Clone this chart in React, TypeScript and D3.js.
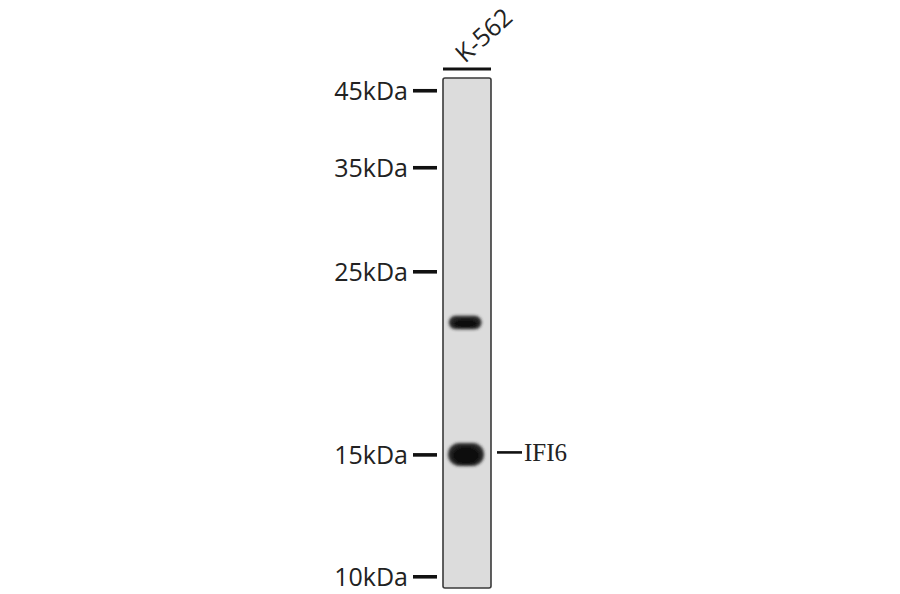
import React, { useEffect, useRef } from 'react';
import * as d3 from 'd3';

// ladder markers (kDa) and their relative mobility down the lane (Rf, 0 = top, 1 = bottom)
const markerKDa = [45, 35, 25, 15, 10];
const markerRf = [0.025, 0.176, 0.38, 0.739, 0.978];
const markerLabels = ['45kDa', '35kDa', '25kDa', '15kDa', '10kDa'];

// sample lanes
const lanes = ['K-562'];

// detected bands in the lane: apparent size (kDa), relative signal
const bandKDa = [21.7, 15.02];
const bandSignal = [0.45, 1];
const bandTarget = ['', 'IFI6'];

export default function App() {
    const svgRef = useRef<SVGSVGElement>(null);

    const width = 900;
    const height = 594;
    const gel = { top: 78, bottom: 588, left: 443, laneWidth: 48 };

    useEffect(() => {
        if (!svgRef.current) return;
        const svg = d3.select(svgRef.current);
        svg.selectAll('*').remove();

        // kDa -> y, calibrated on the ladder
        const rf = d3.scaleLinear().domain([0, 1]).range([gel.top, gel.bottom]);
        const y = d3.scaleLog().domain(markerKDa).range(markerRf.map(r => rf(r)));

        const x = d3.scaleBand<string>()
            .domain(lanes)
            .range([gel.left, gel.left + gel.laneWidth * lanes.length])
            .paddingInner(0);

        const defs = svg.append('defs');
        defs.append('filter').attr('id', 'blur')
            .attr('x', '-30%').attr('y', '-60%').attr('width', '160%').attr('height', '220%')
            .append('feGaussianBlur').attr('stdDeviation', 1.6);

        // lanes
        lanes.forEach(name => {
            const lx = x(name)!;
            const lw = x.bandwidth();
            svg.append('rect')
                .attr('x', lx).attr('y', gel.top)
                .attr('width', lw).attr('height', gel.bottom - gel.top)
                .attr('rx', 2)
                .attr('fill', '#dcdcdc')
                .attr('stroke', '#3a3a3a')
                .attr('stroke-width', 1.6);

            // bar over the lane
            svg.append('line')
                .attr('x1', lx).attr('x2', lx + lw)
                .attr('y1', gel.top - 9).attr('y2', gel.top - 9)
                .attr('stroke', '#111').attr('stroke-width', 3.2);

            svg.append('text')
                .attr('transform', `translate(${lx + 22},${gel.top - 14}) rotate(-42)`)
                .attr('font-family', '"Open Sans", sans-serif')
                .attr('font-size', 25)
                .attr('fill', '#222')
                .text(name);

            const cx = lx + lw / 2;
            const bands = svg.append('g').attr('filter', 'url(#blur)');
            bandKDa.forEach((kda, i) => {
                const s = bandSignal[i];
                const bw = 30 + 6 * s;
                const bh = 6 + 17 * s;
                const by = y(kda);
                bands.append('rect')
                    .attr('x', cx - bw / 2 - 2.5 + 1.5 * s).attr('y', by - bh / 2)
                    .attr('width', bw).attr('height', bh)
                    .attr('rx', bh / 2).attr('ry', bh / 2)
                    .attr('fill', '#262626');
                // darker core
                bands.append('ellipse')
                    .attr('cx', cx - 2 + s).attr('cy', by + 1)
                    .attr('rx', bw / 2 - 4).attr('ry', bh / 2 - 2)
                    .attr('fill', '#111');
            });

            // target labels
            bandKDa.forEach((kda, i) => {
                if (!bandTarget[i]) return;
                const by = y(kda) - 2;
                svg.append('line')
                    .attr('x1', lx + lw + 6).attr('x2', lx + lw + 31)
                    .attr('y1', by).attr('y2', by)
                    .attr('stroke', '#111').attr('stroke-width', 2.6);
                svg.append('text')
                    .attr('x', lx + lw + 33).attr('y', by)
                    .attr('dy', '0.35em')
                    .attr('font-family', '"Liberation Serif", serif')
                    .attr('font-size', 25)
                    .attr('fill', '#222')
                    .text(bandTarget[i]);
            });
        });

        // ladder ticks + labels
        const ladder = svg.append('g');
        markerKDa.forEach((kda, i) => {
            const my = y(kda);
            ladder.append('line')
                .attr('x1', gel.left - 30).attr('x2', gel.left - 6)
                .attr('y1', my).attr('y2', my)
                .attr('stroke', '#111').attr('stroke-width', 3.6);
            ladder.append('text')
                .attr('x', gel.left - 35).attr('y', my)
                .attr('dy', '0.36em')
                .attr('text-anchor', 'end')
                .attr('font-family', '"Open Sans", sans-serif')
                .attr('font-size', 25)
                .attr('fill', '#222')
                .text(markerLabels[i]);
        });
    }, []);

    return (
        <svg
            ref={svgRef}
            width={width}
            height={height}
            style={{ position: 'absolute', left: 0, top: 0, background: '#fff' }}
        />
    );
}
